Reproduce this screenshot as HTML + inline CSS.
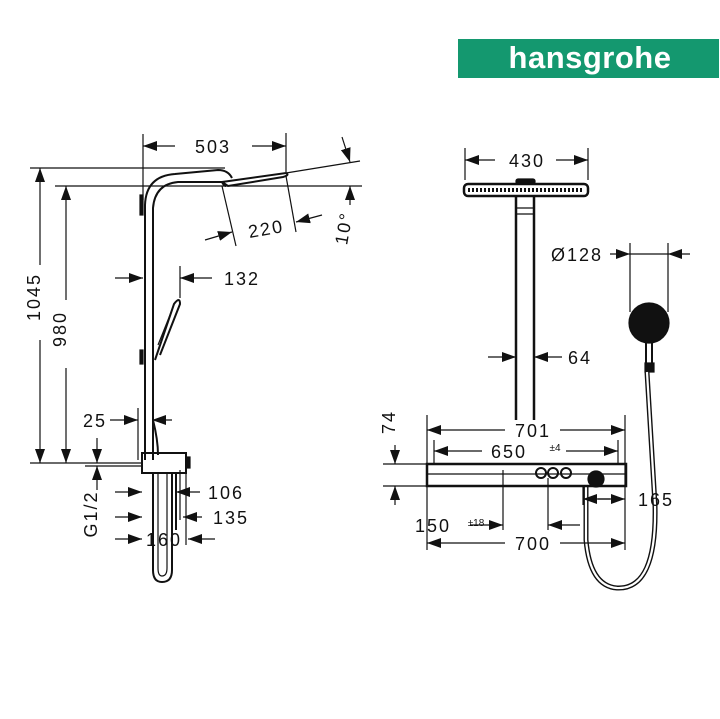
<!DOCTYPE html>
<html><head><meta charset="utf-8"><style>
html,body{margin:0;padding:0;background:#fff;}
svg{display:block;}
text{font-family:"Liberation Sans",sans-serif;fill:#111;}
</style></head><body>
<svg width="720" height="719" viewBox="0 0 720 719" xmlns="http://www.w3.org/2000/svg">
<defs>
<marker id="a" viewBox="0 0 14 10" refX="14" refY="5" markerWidth="14" markerHeight="10" markerUnits="userSpaceOnUse" orient="auto"><path d="M0,0L14,5L0,10z" fill="#111"/></marker>
</defs>
<rect x="458" y="39" width="261" height="39" fill="#14986f"/>
<text x="590" y="68" text-anchor="middle" font-size="31" font-weight="bold" style="fill:#fff" letter-spacing="0.5">hansgrohe</text>

<g stroke="#111" stroke-width="1.2" fill="none">
<line x1="143" y1="134" x2="143" y2="200"/>
<line x1="286" y1="133" x2="286" y2="172"/>
<line x1="30" y1="168" x2="225" y2="168"/>
<line x1="286" y1="173" x2="360" y2="161"/>
<line x1="55" y1="186" x2="362" y2="186"/>
<line x1="30" y1="463" x2="142" y2="463"/>
<line x1="85" y1="466" x2="142" y2="466"/>
<line x1="222" y1="186" x2="236" y2="246"/>
<line x1="286" y1="176" x2="296" y2="232"/>
<line x1="175" y1="146" x2="143" y2="146" marker-end="url(#a)"/>
<line x1="252" y1="146" x2="286" y2="146" marker-end="url(#a)"/>
<line x1="40" y1="265" x2="40" y2="168" marker-end="url(#a)"/>
<line x1="40" y1="340" x2="40" y2="463" marker-end="url(#a)"/>
<line x1="66" y1="300" x2="66" y2="186" marker-end="url(#a)"/>
<line x1="66" y1="368" x2="66" y2="463" marker-end="url(#a)"/>
<line x1="205" y1="240" x2="232" y2="232" marker-end="url(#a)"/>
<line x1="322" y1="215" x2="296" y2="222" marker-end="url(#a)"/>
<line x1="342" y1="137" x2="350" y2="162" marker-end="url(#a)"/>
<line x1="350" y1="205" x2="350" y2="186" marker-end="url(#a)"/>
<line x1="115" y1="278" x2="143" y2="278" marker-end="url(#a)"/>
<line x1="212" y1="278" x2="180" y2="278" marker-end="url(#a)"/>
<line x1="180" y1="266" x2="180" y2="298"/>
<line x1="110" y1="420" x2="138" y2="420" marker-end="url(#a)"/>
<line x1="172" y1="420" x2="152" y2="420" marker-end="url(#a)"/>
<line x1="138" y1="408" x2="138" y2="460"/>
<line x1="97" y1="438" x2="97" y2="463" marker-end="url(#a)"/>
<line x1="97" y1="490" x2="97" y2="466" marker-end="url(#a)"/>
<line x1="115" y1="492" x2="142" y2="492" marker-end="url(#a)"/>
<line x1="200" y1="492" x2="176" y2="492" marker-end="url(#a)"/>
<line x1="115" y1="517" x2="142" y2="517" marker-end="url(#a)"/>
<line x1="202" y1="517" x2="183" y2="517" marker-end="url(#a)"/>
<line x1="115" y1="539" x2="142" y2="539" marker-end="url(#a)"/>
<line x1="215" y1="539" x2="188" y2="539" marker-end="url(#a)"/>
<line x1="186" y1="470" x2="186" y2="545"/>
<line x1="180" y1="470" x2="180" y2="520"/>

<path d="M145,460 L145,205 Q146,176 175,174 L218,170 Q228,170 232,178" stroke-width="2"/>
<path d="M153,460 L153,208 Q155,184 178,182 L222,182 Q224,186 226,186" stroke-width="2"/>
<path d="M222,182 L286,173 Q290,175 283,177 L228,186 Z" stroke-width="2"/>
<rect x="140" y="195" width="3" height="20" fill="#111"/>
<rect x="140" y="350" width="3" height="14" fill="#111"/>
<path d="M155,360 L174,304 Q180,296 180,304 L160,355" stroke-width="2"/>
<path d="M158,345 L172,310" />
<path d="M153,420 Q158,440 158,455" stroke-width="2"/>
<rect x="142" y="453" width="44" height="20" stroke-width="2"/>
<rect x="186" y="457" width="4" height="11" fill="#111"/>
<path d="M153,473 L153,570 Q153,582 162,582 Q172,582 172,570 L172,473" stroke-width="2"/>
<path d="M158,473 L158,568 Q158,576 162,576 Q167,576 167,568 L167,473"/>
<line x1="176" y1="473" x2="176" y2="530" stroke-width="2"/>

<line x1="465" y1="148" x2="465" y2="180"/>
<line x1="588" y1="148" x2="588" y2="180"/>
<line x1="495" y1="160" x2="465" y2="160" marker-end="url(#a)"/>
<line x1="556" y1="160" x2="588" y2="160" marker-end="url(#a)"/>
<rect x="464" y="184" width="124" height="12" rx="4" stroke-width="2.5"/>
<line x1="468" y1="190" x2="584" y2="190" stroke-width="4" stroke-dasharray="2 2"/>
<rect x="516" y="179" width="19" height="5" rx="2" fill="#111"/>
<line x1="516" y1="196" x2="516" y2="420" stroke-width="2.5"/>
<line x1="534" y1="196" x2="534" y2="420" stroke-width="2.5"/>
<line x1="516" y1="208" x2="534" y2="208"/>
<line x1="516" y1="214" x2="534" y2="214"/>
<line x1="488" y1="357" x2="516" y2="357" marker-end="url(#a)"/>
<line x1="562" y1="357" x2="534" y2="357" marker-end="url(#a)"/>
<line x1="610" y1="254" x2="630" y2="254" marker-end="url(#a)"/>
<line x1="690" y1="254" x2="668" y2="254" marker-end="url(#a)"/>
<line x1="630" y1="254" x2="668" y2="254"/>
<line x1="630" y1="243" x2="630" y2="312"/>
<line x1="668" y1="243" x2="668" y2="312"/>
<circle cx="649" cy="323" r="20" fill="#111"/>
<path d="M646,342 L646,365 L652,365 L652,342" stroke-width="2"/>
<rect x="645" y="363" width="9" height="9" fill="#111"/>
<path d="M647,372 L655,505 Q657,590 617,588 Q590,586 586,540 L586,486" stroke-width="5"/>
<path d="M647,372 L655,505 Q657,590 617,588 Q590,586 586,540 L586,486" stroke-width="2.2" stroke="#fff"/>
<line x1="427" y1="415" x2="427" y2="550"/>
<line x1="625" y1="415" x2="625" y2="550"/>
<line x1="434" y1="440" x2="434" y2="464"/>
<line x1="618" y1="440" x2="618" y2="464"/>
<line x1="505" y1="430" x2="427" y2="430" marker-end="url(#a)"/>
<line x1="560" y1="430" x2="625" y2="430" marker-end="url(#a)"/>
<line x1="482" y1="451" x2="434" y2="451" marker-end="url(#a)"/>
<line x1="566" y1="451" x2="618" y2="451" marker-end="url(#a)"/>
<line x1="383" y1="464" x2="427" y2="464"/>
<line x1="383" y1="486" x2="427" y2="486"/>
<line x1="395" y1="445" x2="395" y2="464" marker-end="url(#a)"/>
<line x1="395" y1="505" x2="395" y2="486" marker-end="url(#a)"/>
<rect x="427" y="464" width="199" height="22" stroke-width="2.5"/>
<line x1="427" y1="474" x2="626" y2="474"/>
<circle cx="541" cy="473" r="5" stroke-width="2"/>
<circle cx="553" cy="473" r="5" stroke-width="2"/>
<circle cx="566" cy="473" r="5" stroke-width="2"/>
<circle cx="596" cy="479" r="8" fill="#111"/>
<line x1="503" y1="470" x2="503" y2="530"/>
<line x1="548" y1="478" x2="548" y2="530"/>
<line x1="583" y1="486" x2="583" y2="505"/>
<line x1="610" y1="499" x2="583" y2="499" marker-end="url(#a)"/>
<line x1="598" y1="499" x2="625" y2="499" marker-end="url(#a)"/>
<line x1="470" y1="525" x2="503" y2="525" marker-end="url(#a)"/>
<line x1="580" y1="525" x2="548" y2="525" marker-end="url(#a)"/>
<line x1="505" y1="543" x2="427" y2="543" marker-end="url(#a)"/>
<line x1="560" y1="543" x2="625" y2="543" marker-end="url(#a)"/>
</g>

<g font-size="18" letter-spacing="2">
<text x="213" y="153" text-anchor="middle">503</text>
<text x="266" y="235" text-anchor="middle" transform="rotate(-10 266 228)">220</text>
<text x="343" y="235" text-anchor="middle" transform="rotate(-80 343 228)">10°</text>
<text x="242" y="285" text-anchor="middle">132</text>
<text x="46" y="303" text-anchor="middle" transform="rotate(-90 40 303)">1045</text>
<text x="72" y="335" text-anchor="middle" transform="rotate(-90 66 335)">980</text>
<text x="95" y="427" text-anchor="middle">25</text>
<text x="103" y="520" text-anchor="middle" transform="rotate(-90 97 520)">G1/2</text>
<text x="226" y="499" text-anchor="middle">106</text>
<text x="231" y="524" text-anchor="middle">135</text>
<text x="164" y="546" text-anchor="middle">160</text>
<text x="527" y="167" text-anchor="middle">430</text>
<text x="577" y="261" text-anchor="middle">Ø128</text>
<text x="580" y="364" text-anchor="middle">64</text>
<text x="533" y="437" text-anchor="middle">701</text>
<text x="509" y="458" text-anchor="middle">650</text>
<text x="401" y="428" text-anchor="middle" transform="rotate(-90 395 428)">74</text>
<text x="656" y="506" text-anchor="middle">165</text>
<text x="433" y="532" text-anchor="middle">150</text>
<text x="533" y="550" text-anchor="middle">700</text>
</g>
<text x="555" y="451" font-size="10" text-anchor="middle">±4</text>
<text x="476" y="526" font-size="10" text-anchor="middle">±18</text>
</svg>
</body></html>
